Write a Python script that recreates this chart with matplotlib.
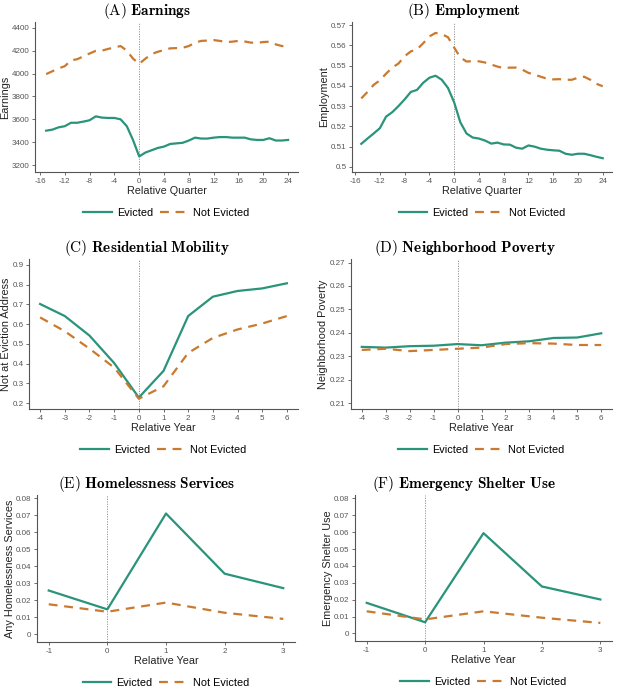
import matplotlib
matplotlib.use("Agg")
import matplotlib.pyplot as plt
import numpy as np

plt.rcParams['mathtext.fontset'] = 'cm'
plt.rcParams['font.family'] = ['Liberation Sans', 'DejaVu Sans']
plt.rcParams['axes.unicode_minus'] = False

TEAL = '#2a947a'
ORANGE = '#c97a30'
GRAY = '#555555'

# ---------------- data ----------------
quarters = list(range(-15, 25))
earn_evicted = [3501, 3510, 3530, 3540, 3570, 3570, 3580, 3592, 3626, 3615,
                3612, 3612, 3600, 3540, 3420, 3276, 3310, 3330, 3350, 3362,
                3385, 3390, 3395, 3415, 3440, 3432, 3432, 3440, 3445, 3445,
                3440, 3440, 3440, 3425, 3420, 3420, 3435, 3415, 3415, 3420]
earn_not = [3995, 4020, 4045, 4064, 4115, 4125, 4150, 4175, 4198, 4200,
            4215, 4228, 4240, 4200, 4130, 4085, 4130, 4170, 4190, 4205,
            4220, 4222, 4225, 4240, 4270, 4285, 4288, 4292, 4285, 4275,
            4278, 4285, 4280, 4270, 4268, 4275, 4278, 4255, 4240, 4240]

emp_evicted = [0.5114, 0.5140, 0.5165, 0.5191, 0.5248, 0.5270, 0.5300, 0.5333,
               0.5370, 0.5380, 0.5415, 0.5440, 0.5450, 0.5430, 0.5390, 0.5319,
               0.5220, 0.5165, 0.5145, 0.5140, 0.5130, 0.5115, 0.5120, 0.5111,
               0.5110, 0.5095, 0.5090, 0.5106, 0.5100, 0.5090, 0.5085, 0.5082,
               0.5080, 0.5065, 0.5060, 0.5065, 0.5065, 0.5058, 0.5050, 0.5043]
emp_not = [0.5338, 0.5370, 0.5405, 0.5427, 0.5460, 0.5490, 0.5510, 0.5546,
           0.5570, 0.5580, 0.5610, 0.5644, 0.5661, 0.5655, 0.5640, 0.5589,
           0.5540, 0.5520, 0.5522, 0.5521, 0.5515, 0.5505, 0.5495, 0.5487,
           0.5490, 0.5490, 0.5480, 0.5464, 0.5455, 0.5445, 0.5435, 0.5432,
           0.5433, 0.5430, 0.5430, 0.5440, 0.5445, 0.5430, 0.5410, 0.5398]

years_long = [-4, -3, -2, -1, 0, 1, 2, 3, 4, 5, 6]
mob_evicted = [0.702, 0.641, 0.542, 0.403, 0.228, 0.363, 0.641, 0.739, 0.768, 0.781, 0.807]
mob_not = [0.634, 0.564, 0.476, 0.380, 0.222, 0.285, 0.454, 0.530, 0.573, 0.603, 0.641]

pov_evicted = [0.2340, 0.2337, 0.2343, 0.2345, 0.2352, 0.2347, 0.2358, 0.2364, 0.2378, 0.2380, 0.2398]
pov_not = [0.2327, 0.2332, 0.2322, 0.2327, 0.2332, 0.2337, 0.2352, 0.2356, 0.2354, 0.2348, 0.2348]

years_short = [-1, 0, 1, 2, 3]
hless_evicted = [0.0258, 0.0147, 0.0711, 0.0357, 0.0272]
hless_not = [0.0177, 0.0133, 0.0187, 0.0127, 0.0091]

shelter_evicted = [0.0181, 0.0066, 0.0594, 0.0278, 0.0201]
shelter_not = [0.0131, 0.0083, 0.0131, 0.0093, 0.0062]

W, H = 620, 698
fig = plt.figure(figsize=(W / 100, H / 100), dpi=100)


def make_ax(x0, y0, x1, y1):
    return fig.add_axes([x0 / W, 1 - y1 / H, (x1 - x0) / W, (y1 - y0) / H])


def style(ax, title, title_px, xlabel, ylabel, xticks, xlim, yticks, ylim, ytl):
    for s in ['top', 'right']:
        ax.spines[s].set_visible(False)
    for s in ['left', 'bottom']:
        ax.spines[s].set_color(GRAY)
        ax.spines[s].set_linewidth(0.8)
    ax.set_xticks(xticks)
    ax.set_xlim(*xlim)
    ax.set_yticks(yticks)
    ax.set_yticklabels(ytl)
    ax.set_ylim(*ylim)
    ax.tick_params(axis='both', colors=GRAY, labelsize=5.8, length=2.5, width=0.6, pad=1.5)
    ax.set_xlabel(xlabel, fontsize=7.8, color='#222222', labelpad=1)
    ax.set_ylabel(ylabel, fontsize=7.8, color='#222222', labelpad=1)
    bb = ax.get_position()
    xfrac = (title_px / W - bb.x0) / bb.width
    ax.set_title(title, fontsize=11, pad=5, x=xfrac)
    ax.axvline(0, color='#888888', lw=0.6, ls=(0, (1.5, 1.5)), zorder=0)


def plot_pair(ax, x, ev, ne, leg_y):
    ax.plot(x, ev, color=TEAL, lw=1.6, label='Evicted')
    ax.plot(x, ne, color=ORANGE, lw=1.6, ls=(0, (4, 3)), label='Not Evicted')
    ax.legend(loc='center', bbox_to_anchor=(0.5, leg_y), ncol=2, frameon=False,
              fontsize=7.8, handlelength=2.6, columnspacing=0.6, handletextpad=0.5)


# (A)
ax = make_ax(35, 22, 298, 172)
plot_pair(ax, quarters, earn_evicted, earn_not, -0.27)
style(ax, r'$\mathrm{(A)}\ \mathbf{Earnings}$', 147, 'Relative Quarter', 'Earnings',
      list(range(-16, 25, 4)), (-16.8, 25.6),
      [3200, 3400, 3600, 3800, 4000, 4200, 4400], (3140, 4450),
      ['3200', '3400', '3600', '3800', '4000', '4200', '4400'])

# (B)
ax = make_ax(352, 22, 612, 172)
plot_pair(ax, quarters, emp_evicted, emp_not, -0.27)
style(ax, r'$\mathrm{(B)}\ \mathbf{Employment}$', 464, 'Relative Quarter', 'Employment',
      list(range(-16, 25, 4)), (-16.5, 25.5),
      [0.50, 0.51, 0.52, 0.53, 0.54, 0.55, 0.56, 0.57], (0.4975, 0.5715),
      ['0.5', '0.51', '0.52', '0.53', '0.54', '0.55', '0.56', '0.57'])

# (C)
ax = make_ax(29, 259, 298, 409)
plot_pair(ax, years_long, mob_evicted, mob_not, -0.27)
style(ax, r'$\mathrm{(C)}\ \mathbf{Residential\ Mobility}$', 147, 'Relative Year', 'Not at Eviction Address',
      years_long, (-4.45, 6.45),
      [0.2, 0.3, 0.4, 0.5, 0.6, 0.7, 0.8, 0.9], (0.17, 0.93),
      ['0.2', '0.3', '0.4', '0.5', '0.6', '0.7', '0.8', '0.9'])

# (D)
ax = make_ax(351, 259, 612, 409)
plot_pair(ax, years_long, pov_evicted, pov_not, -0.27)
style(ax, r'$\mathrm{(D)}\ \mathbf{Neighborhood\ Poverty}$', 465, 'Relative Year', 'Neighborhood Poverty',
      years_long, (-4.45, 6.45),
      [0.21, 0.22, 0.23, 0.24, 0.25, 0.26, 0.27], (0.2075, 0.2715),
      ['0.21', '0.22', '0.23', '0.24', '0.25', '0.26', '0.27'])

# (E)
ax = make_ax(37, 495, 295, 642)
plot_pair(ax, years_short, hless_evicted, hless_not, -0.28)
style(ax, r'$\mathrm{(E)}\ \mathbf{Homelessness\ Services}$', 147, 'Relative Year', 'Any Homelessness Services',
      years_short, (-1.2, 3.2),
      [0, 0.01, 0.02, 0.03, 0.04, 0.05, 0.06, 0.07, 0.08], (-0.0045, 0.082),
      ['0', '0.01', '0.02', '0.03', '0.04', '0.05', '0.06', '0.07', '0.08'])

# (F)
ax = make_ax(355, 495, 612, 641)
plot_pair(ax, years_short, shelter_evicted, shelter_not, -0.28)
style(ax, r'$\mathrm{(F)}\ \mathbf{Emergency\ Shelter\ Use}$', 464, 'Relative Year', 'Emergency Shelter Use',
      years_short, (-1.2, 3.2),
      [0, 0.01, 0.02, 0.03, 0.04, 0.05, 0.06, 0.07, 0.08], (-0.0045, 0.082),
      ['0', '0.01', '0.02', '0.03', '0.04', '0.05', '0.06', '0.07', '0.08'])

fig.savefig('out.png', dpi=100)
